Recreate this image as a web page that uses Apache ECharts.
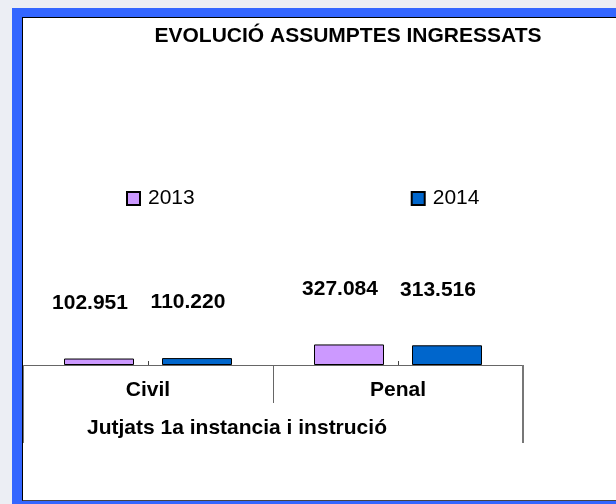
<!DOCTYPE html>
<html>
<head>
<meta charset="utf-8">
<script src="https://cdn.jsdelivr.net/npm/echarts@6/dist/echarts.min.js"></script>
<style>
html,body{margin:0;padding:0;background:#eceef4;}
#frame{position:absolute;left:12px;top:8px;width:604px;height:496px;background:#3366ff;}
#chart{position:absolute;left:22px;top:17px;width:594px;height:484px;background:#fff;border-left:1px solid #000;border-top:1px solid #000;border-bottom:1px solid #444;box-sizing:border-box;}
</style>
</head>
<body>
<div id="frame"></div>
<div id="chart"></div>
<script>
const titleText = 'EVOLUCIÓ ASSUMPTES INGRESSATS';
const categories = ['Civil', 'Penal'];
const outerCategory = ['Jutjats 1a instancia i instrució'];
const seriesNames = ['2013', '2014'];
const values2013 = [102.951, 327.084];
const values2014 = [110.220, 313.516];
const valueLabels2013 = ['102.951', '327.084'];
const valueLabels2014 = ['110.220', '313.516'];

const chart = echarts.init(document.getElementById('chart'));
const font = 'Liberation Sans, Arial, sans-serif';
const labelStyle = (labels) => ({
  show: true,
  position: 'top',
  distance: 45,
  offset: [-9, 0],
  fontFamily: font,
  fontWeight: 'bold',
  fontSize: 21,
  color: '#000',
  formatter: p => labels[p.dataIndex]
});
chart.setOption({
  animation: false,
  title: {
    text: titleText,
    left: 320, top: 3, textAlign: 'center',
    textStyle: {fontFamily: font, fontWeight: 'bold', fontSize: 21, color: '#000'}
  },
  legend: {
    data: seriesNames,
    left: 98, top: 165,
    itemWidth: 13, itemHeight: 13, itemGap: 216,
    icon: 'rect',
    textStyle: {fontFamily: font, fontSize: 21, color: '#000', padding: [0,0,0,3]}
  },
  grid: {left: 0, right: 93, top: 33, bottom: 135},
  xAxis: [
    {
      type: 'category', data: categories, position: 'bottom',
      axisLine: {show: true, lineStyle: {color: '#666', width: 1}},
      axisTick: {show: true, length: 38, lineStyle: {color: '#666'}},
      axisLabel: {fontFamily: font, fontWeight: 'bold', fontSize: 21, color: '#000', margin: 15}
    },
    {
      type: 'category', data: categories, position: 'bottom',
      axisLine: {show: false},
      axisTick: {show: true, inside: true, alignWithLabel: true, length: 4, lineStyle: {color: '#444'}},
      axisLabel: {show: false}
    },
    {
      type: 'category', data: outerCategory, position: 'bottom',
      axisLine: {show: false},
      axisTick: {show: true, length: 78, lineStyle: {color: '#777', width: 2}},
      axisLabel: {fontFamily: font, fontWeight: 'bold', fontSize: 21, color: '#000', margin: 53, padding: [0, 72, 0, 0]}
    }
  ],
  yAxis: {type: 'value', min: 0, max: 5000, show: false},
  series: [
    {
      name: seriesNames[0], type: 'bar', xAxisIndex: 0, data: values2013,
      barWidth: 70, barGap: '40%',
      itemStyle: {color: '#cc99ff', borderColor: '#000', borderWidth: 1},
      label: labelStyle(valueLabels2013)
    },
    {
      name: seriesNames[1], type: 'bar', xAxisIndex: 0, data: values2014,
      barWidth: 70, barGap: '40%',
      itemStyle: {color: '#0066cc', borderColor: '#000', borderWidth: 1},
      label: labelStyle(valueLabels2014)
    }
  ]
});
</script>
</body>
</html>
